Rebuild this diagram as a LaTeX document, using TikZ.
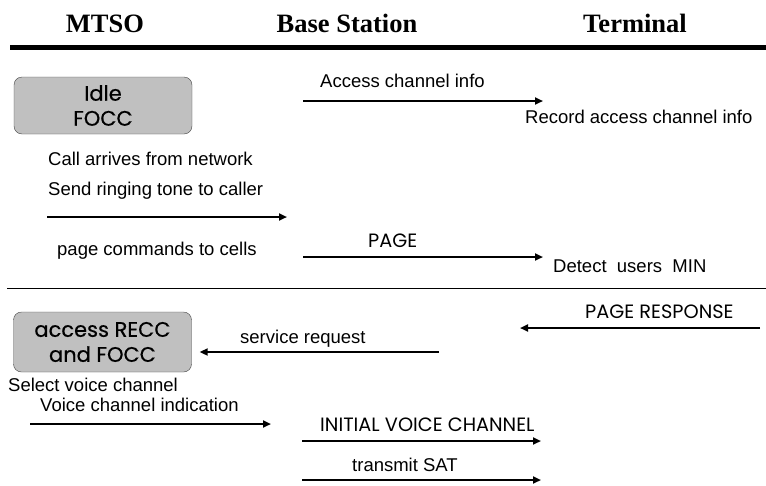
\documentclass[tikz,border=0pt]{standalone}
\usepackage{fontspec}
\setmainfont{Liberation Sans}
\newfontfamily\headfont{Liberation Serif}
\newfontfamily\gothfont{Poppins}
\newfontfamily\boxfont[FakeBold=0.5]{Poppins}
\usepackage{tikz}
\usetikzlibrary{arrows,arrows.meta,positioning}
\usepackage{xcolor}
\definecolor{boxgray}{RGB}{192,192,192}
\definecolor{boxedge}{RGB}{70,70,70}
\tikzstyle{msg} = [line width=2pt,->,>={Triangle[length=8pt,width=7pt]}]
\tikzstyle{head} = [font=\headfont\bfseries\fontsize{26.5}{30}\selectfont, inner sep=0pt, anchor=base]
\tikzstyle{note} = [font=\fontsize{18.5}{22}\selectfont, inner sep=0pt, anchor=base west]
\tikzstyle{sig} = [font=\gothfont\fontsize{19.3}{22}\selectfont, inner sep=0pt, anchor=base west]
\tikzstyle{state} = [draw=boxedge, fill=boxgray, rounded corners=8pt, minimum width=178pt, align=center, font=\boxfont\fontsize{21}{25}\selectfont]

\begin{document}
\begin{tikzpicture}[x=1pt,y=-1pt]
\useasboundingbox (0,0) rectangle (766,485);

% Column headings
\node[head] (mtso) at (105,32) {MTSO};
\node[head] (bs) at (347,32) {Base Station};
\node[head] (term) at (635,32) {Terminal};
\coordinate (rule1) at (10,47);
\coordinate (rule2) at (766,47);
\draw[line width=5pt] (rule1) -- (rule2);

% States at the MTSO
\node[state, minimum height=57pt] (idle) at (103,105.5) {Idle\\FOCC};
\node[state, minimum height=60pt] (recc) at (102.5,342) {access RECC\\and FOCC};

% Idle: access channel info
\coordinate (acc1) at (303,101);
\coordinate (acc2) at (543,101);
\draw[msg] (acc1) -- (acc2);
\node[note] (acclbl) at (320,87) {Access channel info};
\node[note] (record) at (525,123) {Record access channel info};

% Incoming call
\node[note] (call) at (48,165) {Call arrives from network};
\node[note] (ring) at (48,195) {Send ringing tone to caller};
\coordinate (ring1) at (47,217);
\coordinate (ring2) at (287,217);
\draw[msg] (ring1) -- (ring2);
\node[note] (cmds) at (57,255) {page commands to cells};

% Paging
\coordinate (page1) at (303,257);
\coordinate (page2) at (543,257);
\draw[msg] (page1) -- (page2);
\node[sig] (pagelbl) at (368,247) {PAGE};
\node[note] (detect) at (553,272) {Detect\ \ users\ \ MIN};

% Separator
\coordinate (sep1) at (7,288);
\coordinate (sep2) at (766,288);
\draw[line width=1pt] (sep1) -- (sep2);

% Response and access
\coordinate (resp1) at (760,328);
\coordinate (resp2) at (520,328);
\draw[msg] (resp1) -- (resp2);
\node[sig] (resplbl) at (585,318) {PAGE RESPONSE};
\coordinate (serv1) at (439,352);
\draw[msg, shorten >=8pt] (serv1) -- (recc.east |- serv1);
\node[note] (servlbl) at (240,343) {service request};
\node[note] (select) at (8,391) {Select voice channel};
\node[note] (vind) at (40,411) {Voice channel indication};

% Voice channel assignment
\coordinate (vc1) at (30,424);
\coordinate (vc2) at (271,424);
\draw[msg] (vc1) -- (vc2);
\coordinate (ivc1) at (302,441);
\coordinate (ivc2) at (541,441);
\draw[msg] (ivc1) -- (ivc2);
\node[sig] (ivclbl) at (320,431) {INITIAL VOICE CHANNEL};
\coordinate (sat1) at (302,480);
\coordinate (sat2) at (541,480);
\draw[msg] (sat1) -- (sat2);
\node[note] (satlbl) at (352,471) {transmit SAT};
\end{tikzpicture}
\end{document}
